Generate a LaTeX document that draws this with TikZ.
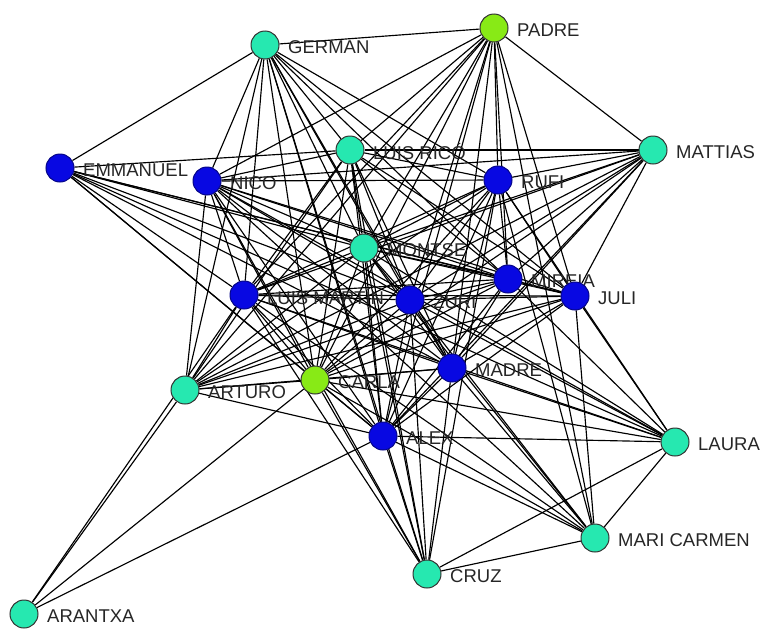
\documentclass[tikz,border=0pt]{standalone}
\usepackage{fontspec}
\setmainfont{Liberation Sans}
\pgfdeclarelayer{ties}
\pgfsetlayers{ties,main}
\definecolor{mint}{RGB}{38,232,176}
\definecolor{royal}{RGB}{8,8,226}
\definecolor{lime}{RGB}{136,234,22}
\begin{document}
\begin{tikzpicture}[x=1pt,y=-1pt,
  actor/.style={circle,draw=black!80,line width=1pt,minimum size=28pt,inner sep=0pt},
  mintnode/.style={actor,fill=mint},
  bluenode/.style={actor,fill=royal,draw=royal!60!black},
  limenode/.style={actor,fill=lime},
  tie/.style={draw=black,line width=1.15pt},
  tag/.style={anchor=west,inner sep=0pt,text=black!85,font=\fontsize{18.5}{21}\selectfont}
]
\useasboundingbox (0,0) rectangle (784,635);

% actors: id / x / y / style / name
\foreach \id/\x/\y/\kind/\txt in {
  ger/265/45/mintnode/GERMAN,
  pad/494/28/limenode/PADRE,
  emm/60/168/bluenode/EMMANUEL,
  nic/207/181/bluenode/NICO,
  ric/350/150/mintnode/LUIS RICÓ,
  ruf/498/180/bluenode/RUFI,
  mat/653/150/mintnode/MATTIAS,
  mon/364/248/mintnode/MONTSE,
  lma/244/295/bluenode/LUIS MARTÍN,
  zur/410/300/bluenode/ZURI,
  mir/508/279/bluenode/MIREIA,
  jul/575/296/bluenode/JULI,
  art/185/390/mintnode/ARTURO,
  car/315/380/limenode/CARLA,
  mad/452/368/bluenode/MADRE,
  ale/383/436/bluenode/ALEX,
  lau/675/442/mintnode/LAURA,
  mca/595/538/mintnode/MARI CARMEN,
  cru/427/574/mintnode/CRUZ,
  ara/24/614/mintnode/ARANTXA}
{
  \node[\kind] (\id) at (\x,\y) {};
  \node[tag] (\id-name) at (\x+23,\y+2) {\txt};
}

\begin{pgfonlayer}{ties}
% dense core
\foreach \a/\b in {
  nic/ric, nic/ruf, nic/mon, nic/lma, nic/zur, nic/mir, nic/jul, nic/art, nic/car, nic/mad, nic/ale,
  ric/ruf, ric/mon, ric/lma, ric/zur, ric/mir, ric/jul, ric/art, ric/car, ric/mad, ric/ale,
  ruf/mon, ruf/lma, ruf/zur, ruf/mir, ruf/jul, ruf/art, ruf/car, ruf/mad, ruf/ale,
  mon/lma, mon/zur, mon/mir, mon/jul, mon/art, mon/car, mon/mad, mon/ale,
  lma/zur, lma/mir, lma/jul, lma/art, lma/car, lma/mad, lma/ale,
  zur/mir, zur/jul, zur/art, zur/car, zur/mad, zur/ale,
  mir/jul, mir/art, mir/car, mir/mad, mir/ale,
  jul/art, jul/car, jul/mad, jul/ale,
  art/car, art/mad, art/ale,
  car/mad, car/ale,
  mad/ale}
  \draw[tie] (\a) -- (\b);
% outer actors
\foreach \a/\b in {
  ger/pad, ger/emm, ger/nic, ger/ric, ger/art, ger/lma, ger/car, ger/mon, ger/zur, ger/mad, ger/mir, ger/jul, ger/ale, ger/ruf, ger/cru,
  pad/mat, pad/ric, pad/nic, pad/lma, pad/art, pad/car, pad/mon, pad/zur, pad/ruf, pad/mir, pad/jul, pad/mad, pad/ale, pad/mca,
  emm/ric, emm/mon, emm/zur, emm/mir, emm/jul, emm/mad, emm/lma, emm/car, emm/ale, emm/lau,
  mat/ric, mat/ruf, mat/mon, mat/lma, mat/zur, mat/mir, mat/jul, mat/car, mat/art, mat/mad, mat/ale, mat/nic,
  lau/ale, lau/mca, lau/cru, lau/mad, lau/zur, lau/jul, lau/mir, lau/lma, lau/car, lau/ruf, lau/nic, lau/mon,
  mca/cru, mca/ale, mca/mad, mca/zur, mca/mon, mca/lma, mca/nic, mca/ruf, mca/jul, mca/car,
  cru/ale, cru/car, cru/mad, cru/zur, cru/mon, cru/lma, cru/nic, cru/ric, cru/ruf,
  ara/art, ara/lma, ara/car, ara/ale}
  \draw[tie] (\a) -- (\b);
\end{pgfonlayer}
\end{tikzpicture}
\end{document}
